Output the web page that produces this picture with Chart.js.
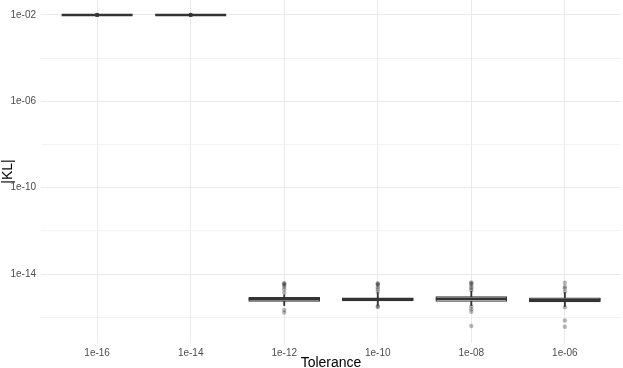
<!DOCTYPE html>
<html>
<head>
<meta charset="utf-8">
<script src="https://cdn.jsdelivr.net/npm/chart.js@4/dist/chart.umd.min.js"></script>
<style>
  body { margin: 0; background: #fff; }
</style>
</head>
<body>
<canvas id="chart" width="623" height="368"></canvas>
<script>
// categories (tolerance)
const categories = ["1e-16", "1e-14", "1e-12", "1e-10", "1e-08", "1e-06"];

// box stats for |KL|
const q1Values = [1e-2, 1e-2, 5.4e-16, 5.75e-16, 5.4e-16, 5.25e-16];
const medianValues = [1e-2, 1e-2, 6.9e-16, 6.8e-16, 7.0e-16, 6.6e-16];
const q3Values = [1e-2, 1e-2, 8.5e-16, 8.1e-16, 9.1e-16, 8.1e-16];
const whiskerLow = [1e-2, 1e-2, 3.5e-16, 3.5e-16, 3.5e-16, 3.2e-16];
const whiskerHigh = [1e-2, 1e-2, 1.1e-15, 1.4e-15, 1.6e-15, 1.4e-15];

// outliers per category
const outliers = [
    [1e-2, 1e-2, 1e-2, 1e-2],
    [1e-2, 1e-2, 1e-2, 1e-2],
    [3.8e-15, 3.6e-15, 3.16e-15, 2.63e-15, 2.0e-15, 1.38e-15, 2.19e-16, 1.66e-16],
    [3.8e-15, 3.5e-15, 3.16e-15, 2.5e-15, 2.0e-15, 1.55e-15, 3.16e-16, 3.1e-16],
    [4.17e-15, 3.8e-15, 3.3e-15, 2.63e-15, 2.19e-15, 1.82e-15, 3.16e-16, 2.4e-16, 1.82e-16, 3.98e-17],
    [3.98e-15, 2.63e-15, 2.19e-15, 1.55e-15, 2.95e-16, 7.1e-17, 3.7e-17]
];

// y ticks: every 2 decades, label every 4
const yTickValues = [1e-16, 1e-14, 1e-12, 1e-10, 1e-8, 1e-6, 1e-4, 1e-2];
const yTickLabels = { 1e-14: "1e-14", 1e-10: "1e-10", 1e-6: "1e-06", 1e-2: "1e-02" };

const yMin = 6.5e-18;
const yMax = 0.049;

const outlierPoints = [];
outliers.forEach((list, i) => {
    list.forEach(v => outlierPoints.push({ x: i, y: v }));
});

const isMajor = (v) => yTickLabels[v] !== undefined;
const font = { family: "Liberation Sans, Arial, sans-serif", size: 10 };

const ctx = document.getElementById("chart").getContext("2d");
const chart = new Chart(ctx, {
    type: "bar",
    data: {
        datasets: [
            {
                // median line
                type: "line",
                data: categories.map((c, i) => ({ x: i, y: medianValues[i] })),
                showLine: false,
                pointStyle: "line",
                pointRadius: 35.5,
                pointHoverRadius: 35.5,
                borderColor: "#333333",
                borderWidth: 2.5,
                clip: false,
                order: 0
            },
            {
                // box
                type: "bar",
                data: categories.map((c, i) => ({ x: i, y: [q1Values[i], q3Values[i]] })),
                backgroundColor: "#ffffff",
                borderColor: "#333333",
                borderWidth: 1.2,
                borderSkipped: false,
                grouped: false,
                barThickness: 71,
                order: 1
            },
            {
                // whiskers
                type: "bar",
                data: categories.map((c, i) => ({ x: i, y: [whiskerLow[i], whiskerHigh[i]] })),
                backgroundColor: "#333333",
                borderWidth: 0,
                grouped: false,
                barThickness: 1.2,
                order: 2
            },
            {
                // outliers
                type: "line",
                data: outlierPoints,
                showLine: false,
                pointRadius: 2.2,
                pointBorderWidth: 0,
                pointBackgroundColor: "rgba(0,0,0,0.28)",
                order: 3
            }
        ]
    },
    options: {
        responsive: false,
        animation: false,
        layout: { autoPadding: false, padding: { top: 0, right: 2, bottom: 0, left: 0 } },
        plugins: {
            legend: { display: false },
            tooltip: { enabled: false }
        },
        scales: {
            x: {
                type: "linear",
                min: -0.6,
                max: 5.6,
                offset: false,
                afterBuildTicks: (scale) => {
                    scale.ticks = categories.map((c, i) => ({ value: i }));
                },
                grid: { offset: false, color: "#ebebeb", lineWidth: 1, drawTicks: false },
                border: { display: false },
                ticks: {
                    padding: 4,
                    color: "#4d4d4d",
                    font: font,
                    callback: (value) => categories[value]
                },
                title: {
                    display: true,
                    text: "Tolerance",
                    color: "#000",
                    padding: { top: 0, bottom: -4 },
                    font: { family: "Liberation Sans, Arial, sans-serif", size: 14 }
                },
                afterFit: (scale) => {
                    scale.height = 25;
                    scale.paddingLeft = 0;
                    scale.paddingRight = 0;
                }
            },
            y: {
                type: "logarithmic",
                min: yMin,
                max: yMax,
                bounds: "data",
                afterBuildTicks: (scale) => {
                    scale.ticks = yTickValues.map(v => ({ value: v }));
                },
                grid: {
                    drawTicks: false,
                    color: "#ebebeb",
                    lineWidth: (c) => (c.tick && isMajor(c.tick.value) ? 1 : 0.6)
                },
                border: { display: false },
                ticks: {
                    padding: 5,
                    autoSkip: false,
                    color: "#4d4d4d",
                    font: font,
                    callback: (value) => yTickLabels[value] || ""
                },
                title: {
                    display: true,
                    text: "|KL|",
                    color: "#000",
                    padding: { top: 0, bottom: 0 },
                    font: { family: "Liberation Sans, Arial, sans-serif", size: 14 }
                },
                afterFit: (scale) => {
                    scale.width = 41;
                    scale.paddingTop = 0;
                    scale.paddingBottom = 0;
                }
            }
        }
    }
});
</script>
</body>
</html>
